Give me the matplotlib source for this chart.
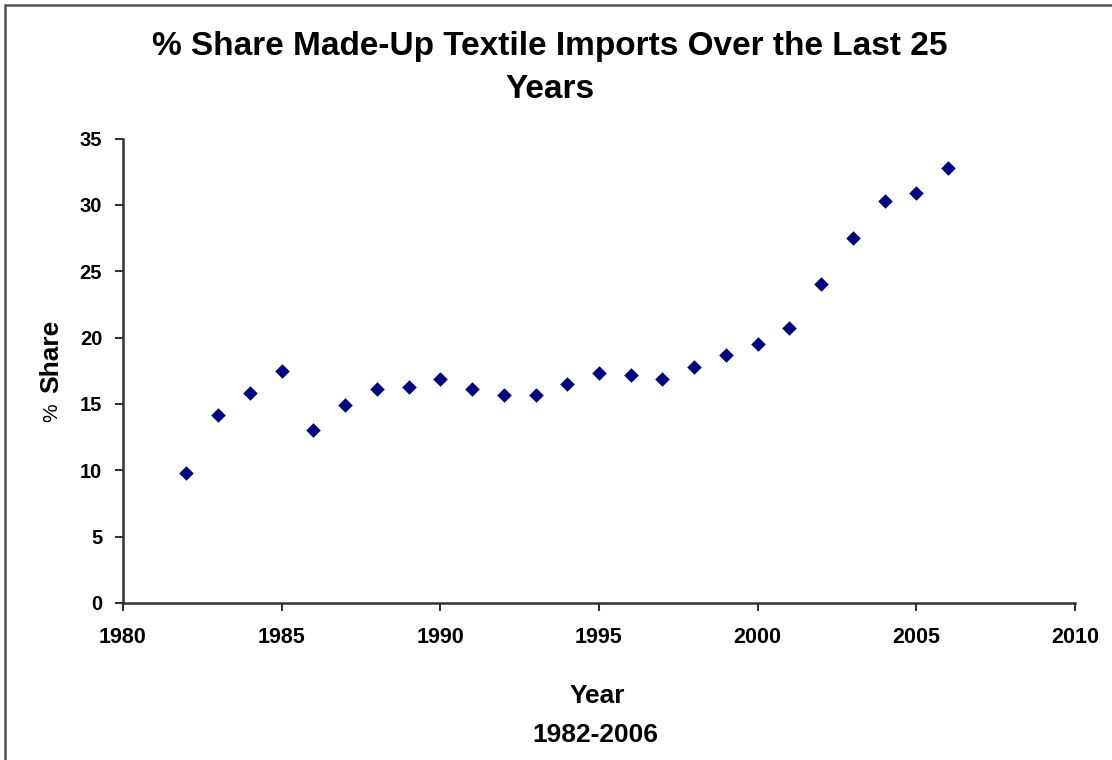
import matplotlib
matplotlib.use("Agg")
import matplotlib.pyplot as plt
from matplotlib.patches import Rectangle

years = [1982, 1983, 1984, 1985, 1986, 1987, 1988, 1989, 1990, 1991, 1992, 1993,
         1994, 1995, 1996, 1997, 1998, 1999, 2000, 2001, 2002, 2003, 2004, 2005, 2006]
share = [9.8, 14.2, 15.8, 17.5, 13.0, 14.9, 16.1, 16.3, 16.9, 16.1, 15.7, 15.7,
         16.5, 17.3, 17.2, 16.9, 17.8, 18.7, 19.5, 20.7, 24.0, 27.5, 30.3, 30.9, 32.8]
xticks = [1980, 1985, 1990, 1995, 2000, 2005, 2010]
yticks = [0, 5, 10, 15, 20, 25, 30, 35]

plt.rcParams['font.family'] = ['Liberation Sans', 'DejaVu Sans']

W, H = 1112, 760
fig = plt.figure(figsize=(W / 100, H / 100), dpi=100)
fig.patches.append(Rectangle((5 / W, -0.1), 1.2, 1 - 5 / H + 0.1, transform=fig.transFigure,
                             fill=False, edgecolor='#555555', linewidth=1.8))

ax = fig.add_axes([123 / W, 1 - 603 / H, (1075 - 123) / W, (603 - 138.5) / H])
ax.scatter(years, share, marker='D', s=55, color='#000080', zorder=3, linewidths=0)

ax.set_xlim(1980, 2010)
ax.set_ylim(0, 35)
ax.set_xticks(xticks)
ax.set_yticks(yticks)
for s in ['top', 'right']:
    ax.spines[s].set_visible(False)
for s in ['left', 'bottom']:
    ax.spines[s].set_linewidth(1.8)
    ax.spines[s].set_color('#333333')
ax.tick_params(axis='both', direction='out', length=6, width=1.5, color='#333333')
ax.tick_params(axis='x', pad=11, labelsize=15.5)
ax.tick_params(axis='y', pad=9, labelsize=14.5)
for lbl in ax.get_xticklabels() + ax.get_yticklabels():
    lbl.set_fontweight('bold')

fig.text(550 / W, 1 - 47 / H, '% Share Made-Up Textile Imports Over the Last 25',
         ha='center', va='center', fontsize=24, fontweight='bold')
fig.text(550 / W, 1 - 90 / H, 'Years', ha='center', va='center', fontsize=24, fontweight='bold')
fig.text(597 / W, 1 - 696 / H, 'Year', ha='center', va='center', fontsize=19, fontweight='bold')
fig.text(595 / W, 1 - 735 / H, '1982-2006', ha='center', va='center', fontsize=19, fontweight='bold')
fig.text(51 / W, 1 - 356 / H, 'Share', ha='center', va='center', rotation=90,
         fontsize=19, fontweight='bold')
fig.text(52 / W, 1 - 413 / H, '%', ha='center', va='center', rotation=90,
         fontsize=15)

fig.savefig('out.png', dpi=100, facecolor='white')
